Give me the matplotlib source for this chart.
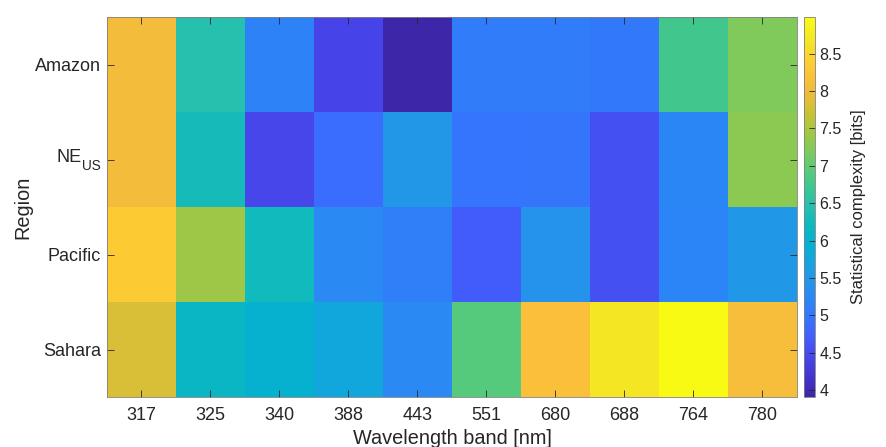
import numpy as np
import matplotlib
matplotlib.use('Agg')
import matplotlib.pyplot as plt
from matplotlib.colors import LinearSegmentedColormap
from matplotlib.transforms import blended_transform_factory, offset_copy

plt.rcParams['font.family'] = ['Liberation Sans', 'DejaVu Sans']

regions = ['Amazon', 'NE_US', 'Pacific', 'Sahara']
bands = ['317', '325', '340', '388', '443', '551', '680', '688', '764', '780']

amazon = [8.06, 6.45, 5.18, 4.42, 3.91, 5.10, 5.10, 5.05, 6.75, 7.21]
ne_us = [8.06, 6.30, 4.43, 4.88, 5.48, 4.98, 4.99, 4.55, 5.23, 7.29]
pacific = [8.35, 7.42, 6.25, 5.26, 5.13, 4.70, 5.41, 4.56, 5.20, 5.50]
sahara = [7.82, 6.15, 5.99, 5.76, 5.26, 6.91, 8.16, 8.69, 8.99, 8.11]

# parula-like colormap
parula_pts = [
    (0.00, (0.2422, 0.1504, 0.6603)),
    (0.05, (0.2691, 0.2005, 0.8037)),
    (0.10, (0.2773, 0.2720, 0.9180)),
    (0.15, (0.2650, 0.3560, 0.9850)),
    (0.20, (0.2160, 0.4450, 0.9960)),
    (0.25, (0.1780, 0.5150, 0.9700)),
    (0.30, (0.1450, 0.5820, 0.9200)),
    (0.35, (0.0900, 0.6380, 0.8780)),
    (0.40, (0.0200, 0.6900, 0.8300)),
    (0.45, (0.0450, 0.7250, 0.7550)),
    (0.50, (0.1500, 0.7500, 0.6900)),
    (0.55, (0.2300, 0.7800, 0.5800)),
    (0.60, (0.3600, 0.7950, 0.4700)),
    (0.65, (0.5000, 0.7950, 0.3600)),
    (0.70, (0.6500, 0.7800, 0.2600)),
    (0.75, (0.7900, 0.7600, 0.2000)),
    (0.80, (0.9300, 0.7350, 0.2400)),
    (0.85, (0.9950, 0.7600, 0.2200)),
    (0.90, (0.9850, 0.8300, 0.1850)),
    (0.95, (0.9550, 0.9200, 0.1300)),
    (1.00, (0.9769, 0.9839, 0.0805)),
]
parula = LinearSegmentedColormap.from_list('parula', parula_pts, N=256)

data = np.array([amazon, ne_us, pacific, sahara])

fig = plt.figure(figsize=(8.87, 4.47), dpi=100)
ax = fig.add_axes([107 / 887, 50 / 447, 690 / 887, 380 / 447])
im = ax.imshow(data, cmap=parula, aspect='auto', vmin=data.min(), vmax=data.max(),
               interpolation='nearest')

axcol = '#262626'
ax.set_xticks(range(len(bands)))
ax.set_xticklabels(bands, fontsize=13)
ax.set_yticks(range(len(regions)))
ax.set_yticklabels([r if r != 'NE_US' else '' for r in regions], fontsize=13)
ax.tick_params(direction='in', length=5, width=0.6, color=axcol, labelcolor=axcol,
               top=True, right=True)
ax.tick_params(axis='x', pad=7)
ax.tick_params(axis='y', pad=4.5)
for s in ax.spines.values():
    s.set_color('#808080')
    s.set_linewidth(0.6)
ax.set_xlabel('Wavelength band [nm]', fontsize=14.3, color=axcol, labelpad=3.5)
ax.set_ylabel('Region', fontsize=14.3, color=axcol, labelpad=2)

# NE with a lowered subscript, like MATLAB's tex interpreter
trans = blended_transform_factory(ax.transAxes, ax.transData)
y_ne = regions.index('NE_US')
t_us = ax.text(0, y_ne, 'US', fontsize=9.8, color=axcol, ha='right', va='baseline',
               transform=offset_copy(trans, fig, x=-4.5, y=-7.8, units='points'))
fig.canvas.draw()
w_us = t_us.get_window_extent().width * 72 / fig.dpi
ax.text(0, y_ne, 'NE', fontsize=13, color=axcol, ha='right', va='baseline',
        transform=offset_copy(trans, fig, x=-4.5 - w_us, y=-1.6, units='points'))

cax = fig.add_axes([804.5 / 887, 50 / 447, 10.5 / 887, 380 / 447])
cb = fig.colorbar(im, cax=cax)
cb.set_ticks([4, 4.5, 5, 5.5, 6, 6.5, 7, 7.5, 8, 8.5])
cb.ax.set_yticklabels(['4', '4.5', '5', '5.5', '6', '6.5', '7', '7.5', '8', '8.5'])
cb.ax.tick_params(direction='in', length=4, width=0.6, color=axcol, labelcolor=axcol,
                  labelsize=11.5, pad=3)
cb.outline.set_edgecolor('#808080')
cb.outline.set_linewidth(0.6)
cb.set_label('Statistical complexity [bits]', fontsize=12, color=axcol, labelpad=6.5)

fig.savefig('out.png', dpi=100)
